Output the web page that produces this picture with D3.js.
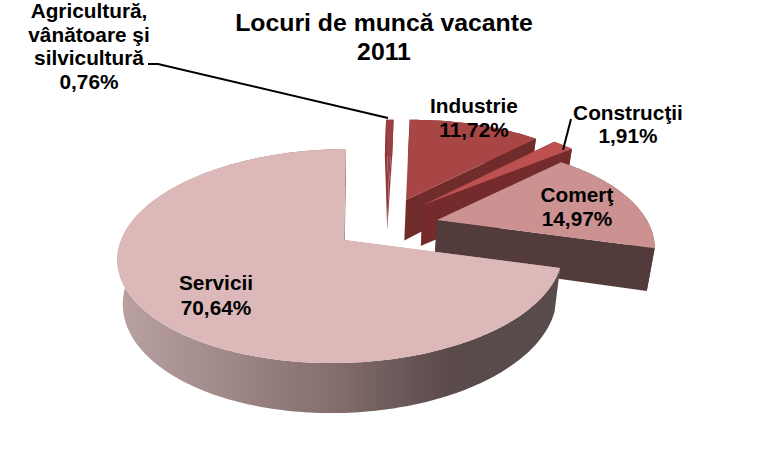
<!DOCTYPE html>
<html><head><meta charset="utf-8">
<script src="https://cdn.jsdelivr.net/npm/d3@7"></script>
<style>html,body{margin:0;padding:0;background:#fff}svg{display:block}text{font-family:"Liberation Sans",Arial,sans-serif;font-weight:bold;fill:#000}</style>
</head><body><div id="c"></div>
<script>
const categories=["Agricultură, vânătoare şi silvicultură","Industrie","Construcţii","Comerţ","Servicii"];
const values=[0.76,11.72,1.91,14.97,70.64];
const valueLabels=["0,76%","11,72%","1,91%","14,97%","70,64%"];
const titleLines=["Locuri de muncă vacante","2011"];

const W=770,H=461;
const topColors=["#9a4040","#a84545","#bd5050","#cc9191","#dcb8b8"];
const wallColors=["#8e3a3a","#702b2b","#752b2b","#533b3b","#b9a0a0"];
const apexes=[[388.5,190],[406,200],[423,205],[437,220],[344,240]];
const radii=[[.86,.86],[.97,1.01],[1.03,1.03],[.92,1.03],[1,1]];
const angleAdj=[[0,0],[0,0],[0,0],[-5,1],[0,0]].map(p=>p.map(x=>x*Math.PI/180));
const labelBoxes=[
 {x:89,y:[18,42,65,89],t:["Agricultură,","vânătoare şi","silvicultură","0,76%"]},
 {x:474,y:[113,137]},{x:628,y:[120,143]},{x:577,y:[202,226]},{x:216,y:[290,315]}];
const thick=50, vanishX=338, baseShrink=.975;

function solve(A,b){const n=b.length,M=A.map((r,i)=>[...r,b[i]]);
 for(let i=0;i<n;i++){let p=i;for(let k=i+1;k<n;k++)if(Math.abs(M[k][i])>Math.abs(M[p][i]))p=k;
  [M[i],M[p]]=[M[p],M[i]];
  for(let k=0;k<n;k++){if(k===i)continue;const f=M[k][i]/M[i][i];for(let j=i;j<=n;j++)M[k][j]-=f*M[i][j];}}
 return M.map((r,i)=>r[n]/r[i]);}
const endA=2*Math.PI*(1-values[4]/d3.sum(values));
const ctrl=[[[0,-1],[346,149]],[[Math.sin(endA),-Math.cos(endA)],[560,268]],[[0,1],[340,363]],[[-1,0],[120,243]]];
const A=[],B=[];
ctrl.forEach(([[u,v],[x,y]])=>{A.push([u,v,1,0,0,0,-u*x,-v*x]);B.push(x);A.push([0,0,0,u,v,1,-u*y,-v*y]);B.push(y);});
const h=solve(A,B);
function proj(u,v){const w=h[6]*u+h[7]*v+1;return [(h[0]*u+h[1]*v+h[2])/w,(h[3]*u+h[4]*v+h[5])/w,1/w];}
function unproj(x,y){return solve([[h[0]-h[6]*x,h[1]-h[7]*x],[h[3]-h[6]*y,h[4]-h[7]*y]],[x-h[2],y-h[5]]);}
const ref=proj(0,1)[2];
function topPt(o,r,t){const p=proj(o[0]+r*Math.sin(t),o[1]-r*Math.cos(t));return [p[0],p[1]];}
function lower(p){return [vanishX+(p[0]-vanishX)*baseShrink,p[1]+thick*p[2]/ref];}
function botPt(o,r,t){return lower(proj(o[0]+r*Math.sin(t),o[1]-r*Math.cos(t)));}

const svg=d3.select("#c").append("svg").attr("width",W).attr("height",H);
const defs=svg.append("defs");
const grad=defs.append("linearGradient").attr("id","sg").attr("gradientUnits","userSpaceOnUse").attr("x1",117).attr("x2",560).attr("y1",0).attr("y2",0);
[[0,"#bba2a2"],[0.25,"#a08888"],[0.5,"#836c6c"],[0.75,"#5a4a4a"],[1,"#5a4c4c"]].forEach(([o,c])=>grad.append("stop").attr("offset",o).attr("stop-color",c));

const arcs=d3.pie().sort(null).value(d=>d).startAngle(0).endAngle(2*Math.PI)(values);
const line=d3.line().curve(d3.curveLinear);
const tRange=(a,b)=>{const n=Math.max(2,Math.ceil((b-a)/0.02));return d3.range(n+1).map(i=>a+(b-a)*i/n);};

arcs.forEach((d,i)=>{
 const o=i===4?[0,0]:unproj(apexes[i][0],apexes[i][1]);
 const g=svg.append("g");
 const a=d.startAngle+angleAdj[i][0],b=d.endAngle+angleAdj[i][1],wall=i===4?"url(#sg)":wallColors[i];
 const apT=proj(o[0],o[1]);
 const apexT=[apexes[i][0],apexes[i][1]],apexB=lower([apexes[i][0],apexes[i][1],apT[2]]);
 const [r0,r1]=radii[i], rad=t=>r0+(r1-r0)*(t-a)/(b-a);
 // radial cut faces
 g.append("path").attr("d",line([apexT,topPt(o,r0,a),botPt(o,r0,a),apexB])+"Z").attr("fill",i===4?"#b9a0a0":wall);
 g.append("path").attr("d",line([apexT,topPt(o,r1,b),botPt(o,r1,b),apexB])+"Z").attr("fill",wall);
 // outer wall
 const ts=tRange(a,b);
 g.append("path").attr("d",line([...ts.map(t=>topPt(o,rad(t),t)),...ts.slice().reverse().map(t=>botPt(o,rad(t),t))])+"Z").attr("fill",wall);
 // top face
 g.append("path").attr("d",line([apexT,...ts.map(t=>topPt(o,rad(t),t))])+"Z").attr("fill",topColors[i]);
});

const tg=svg.append("g");
// leader lines
tg.append("path").attr("d",line([[148,64],[158,64],[388,118]])).attr("fill","none").attr("stroke","#000").attr("stroke-width",2);
tg.append("path").attr("d",line([[571,119],[563,150]])).attr("fill","none").attr("stroke","#000").attr("stroke-width",2);

titleLines.forEach((t,i)=>tg.append("text").attr("x",384).attr("y",[31,60][i]).attr("text-anchor","middle").attr("font-size",24.8).text(t));
labelBoxes.forEach((l,i)=>{
 const lines=l.t||[categories[i],valueLabels[i]];
 lines.forEach((t,j)=>tg.append("text").attr("x",l.x).attr("y",l.y[j]).attr("text-anchor","middle").attr("font-size",20.8).text(t));
});
</script></body></html>
